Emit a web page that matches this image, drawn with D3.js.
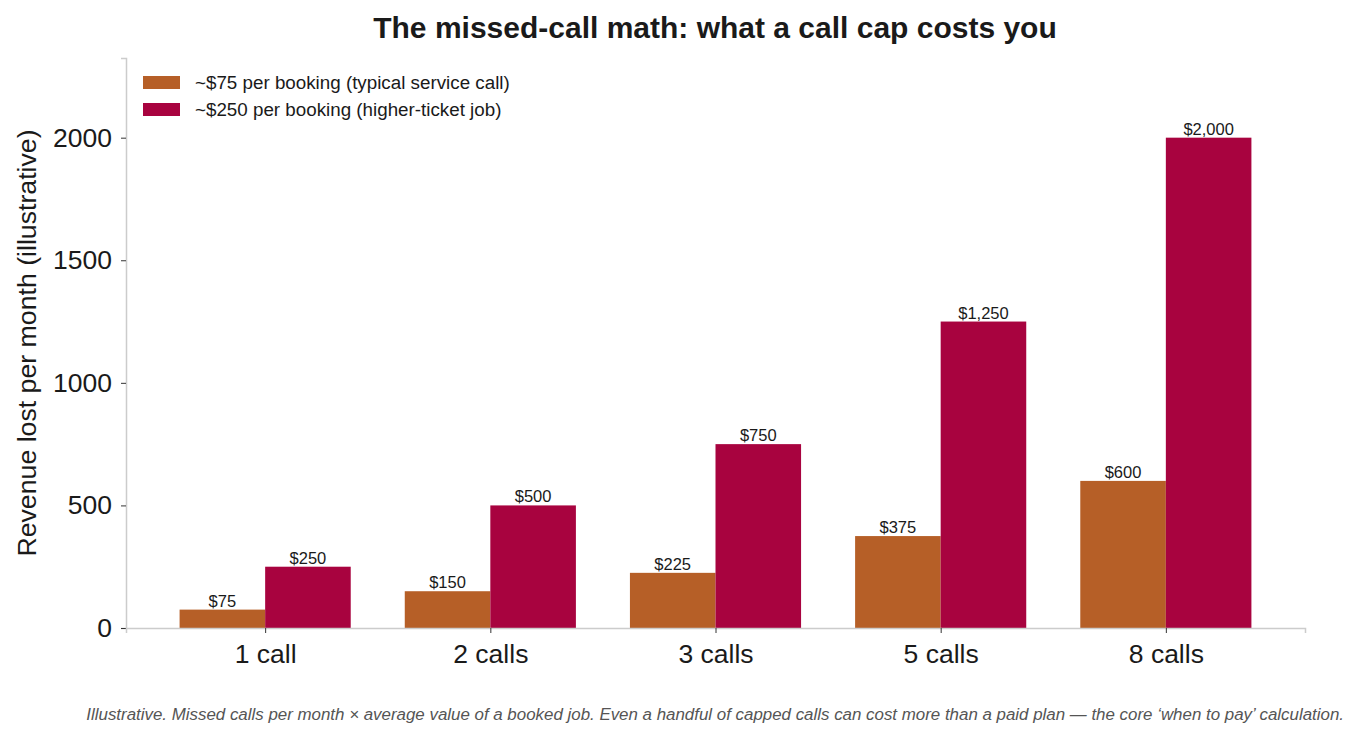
<!DOCTYPE html>
<html>
<head>
<meta charset="utf-8">
<script src="https://cdn.jsdelivr.net/npm/d3@7"></script>
<style>
  body { margin: 0; background: #fff; }
  text { font-family: "Liberation Sans", Arial, sans-serif; fill: #1a1a1a; }
</style>
</head>
<body>
<div id="chart"></div>
<script>
// data
var categories = ["1 call", "2 calls", "3 calls", "5 calls", "8 calls"];
var seriesNames = ["~$75 per booking (typical service call)", "~$250 per booking (higher-ticket job)"];
var lowValues = [75, 150, 225, 375, 600];
var highValues = [250, 500, 750, 1250, 2000];
var yTicks = [0, 500, 1000, 1500, 2000];
var colors = ["#b65f27", "#a8033f"];

var width = 1360, height = 738;
var margin = { left: 126, right: 55, top: 58, bottom: 110 };
var plotW = width - margin.left - margin.right;
var plotH = height - margin.top - margin.bottom;

var svg = d3.select("#chart").append("svg")
    .attr("width", width)
    .attr("height", height);

// x scale in category units, like matplotlib with 5% margins
var barW = 0.38;
var xLin = d3.scaleLinear()
    .domain([-0.618, categories.length - 1 + 0.618])
    .range([margin.left, margin.left + plotW]);

var y = d3.scaleLinear()
    .domain([0, 2325])
    .range([margin.top + plotH, margin.top]);

// bars
var series = [lowValues, highValues];
series.forEach(function(vals, s) {
    svg.append("g").selectAll("rect")
        .data(vals)
        .enter().append("rect")
        .attr("x", function(d, i) { return xLin(i - barW + s * barW); })
        .attr("width", function() { return xLin(barW) - xLin(0); })
        .attr("y", function(d) { return y(d); })
        .attr("height", function(d) { return y(0) - y(d); })
        .attr("fill", colors[s]);

    // value labels
    svg.append("g").selectAll("text")
        .data(vals)
        .enter().append("text")
        .attr("x", function(d, i) { return xLin(i - barW / 2 + s * barW); })
        .attr("y", function(d) { return y(d) - 3; })
        .attr("text-anchor", "middle")
        .attr("font-size", 16.5)
        .text(function(d) { return "$" + d3.format(",")(d); });
});

// y axis
var yAxis = svg.append("g")
    .attr("transform", "translate(" + margin.left + ",0)")
    .call(d3.axisLeft(y).tickValues(yTicks).tickSize(5).tickPadding(9).tickFormat(d3.format("d")));
yAxis.select(".domain").attr("stroke", "#cccccc").attr("stroke-width", 1.5);
yAxis.selectAll(".tick line").attr("stroke", "#333");
yAxis.selectAll(".tick text").attr("font-size", 26.5).attr("fill", "#1a1a1a")
    .attr("font-family", "Liberation Sans, Arial, sans-serif");

// x axis
var xAxis = svg.append("g")
    .attr("transform", "translate(0," + y(0) + ")")
    .call(d3.axisBottom(xLin).tickValues(d3.range(categories.length))
        .tickFormat(function(i) { return categories[i]; }).tickSize(5).tickPadding(11));
xAxis.select(".domain").attr("stroke", "#cccccc").attr("stroke-width", 1.5);
xAxis.selectAll(".tick line").attr("stroke", "#333");
xAxis.selectAll(".tick text").attr("font-size", 26.5).attr("fill", "#1a1a1a")
    .attr("font-family", "Liberation Sans, Arial, sans-serif");

// y label
svg.append("text")
    .attr("transform", "translate(36," + (margin.top + plotH / 2) + ") rotate(-90)")
    .attr("text-anchor", "middle")
    .attr("font-size", 26.7)
    .text("Revenue lost per month (illustrative)");

// title
svg.append("text")
    .attr("x", 715)
    .attr("y", 38)
    .attr("text-anchor", "middle")
    .attr("font-size", 30)
    .attr("font-weight", "bold")
    .text("The missed-call math: what a call cap costs you");

// legend
var legend = svg.append("g").attr("transform", "translate(143,76)");
seriesNames.forEach(function(name, i) {
    legend.append("rect")
        .attr("x", 0)
        .attr("y", i * 27)
        .attr("width", 37)
        .attr("height", 13)
        .attr("fill", colors[i]);
    legend.append("text")
        .attr("x", 52)
        .attr("y", i * 27 + 13)
        .attr("font-size", 18.8)
        .text(name);
});

// footnote
svg.append("text")
    .attr("x", 1344)
    .attr("y", 720)
    .attr("text-anchor", "end")
    .attr("font-size", 16.9)
    .attr("font-style", "italic")
    .style("fill", "#555")
    .text("Illustrative. Missed calls per month \u00d7 average value of a booked job. Even a handful of capped calls can cost more than a paid plan \u2014 the core \u2018when to pay\u2019 calculation.");
</script>
</body>
</html>
